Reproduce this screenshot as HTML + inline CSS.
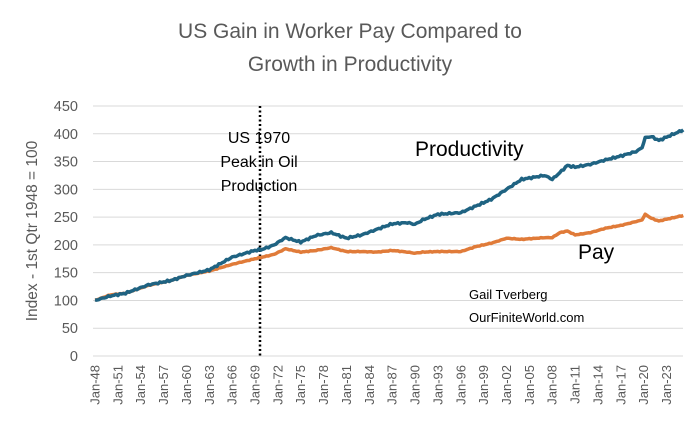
<!DOCTYPE html>
<html><head><meta charset="utf-8"><style>
body{margin:0;background:#fff;}
svg{display:block;font-family:"Liberation Sans",sans-serif;}
</style></head><body>
<svg id="s" width="700" height="425" viewBox="0 0 700 425">
<text x="350" y="38" text-anchor="middle" font-size="21" fill="#595959">US Gain in Worker Pay Compared to</text>
<text x="350" y="71" text-anchor="middle" font-size="21" fill="#595959">Growth in Productivity</text>
<g id="grid" stroke="#d9d9d9" stroke-width="1"></g>
<g id="ylab" font-size="14.5" fill="#595959" text-anchor="end"></g>
<text transform="translate(37,231) rotate(-90)" text-anchor="middle" font-size="15.5" fill="#595959">Index - 1st Qtr 1948 = 100</text>
<g id="xlab" font-size="13" fill="#595959"></g>
<line x1="260" y1="106" x2="260" y2="358" stroke="#000" stroke-width="2.5" stroke-dasharray="2,2.5"/>
<g font-size="16" fill="#000" text-anchor="middle">
<text x="259" y="143">US 1970</text>
<text x="259" y="167">Peak in Oil</text>
<text x="259" y="191">Production</text>
</g>
<polyline id="pay" fill="none" stroke="#e07b39" stroke-width="3.5" stroke-linejoin="round"/>
<polyline id="prod" fill="none" stroke="#1f6382" stroke-width="3.5" stroke-linejoin="round"/>
<text x="415" y="156" font-size="21" fill="#000">Productivity</text>
<text x="578" y="259" font-size="21" fill="#000">Pay</text>
<text x="469" y="299" font-size="13" fill="#000">Gail Tverberg</text>
<text x="469" y="322" font-size="13" fill="#000">OurFiniteWorld.com</text>
</svg>
<script>
var ns="http://www.w3.org/2000/svg";
function Y(v){return 356-v*250/450;}
function X(y){return 95+(y-1948)*7.62;}
var g=document.getElementById('grid'),yl=document.getElementById('ylab'),xl=document.getElementById('xlab');
for(var v=0;v<=450;v+=50){var l=document.createElementNS(ns,'line');l.setAttribute('x1',93);l.setAttribute('x2',683);l.setAttribute('y1',Y(v));l.setAttribute('y2',Y(v));g.appendChild(l);
var t=document.createElementNS(ns,'text');t.setAttribute('x',78);t.setAttribute('y',Y(v)+5);t.textContent=v;yl.appendChild(t);}
for(var yr=1948;yr<=2023;yr+=3){var t=document.createElementNS(ns,'text');var x=X(yr)+4.5;t.setAttribute('transform','translate('+x+',365) rotate(-90)');t.setAttribute('text-anchor','end');t.textContent='Jan-'+String(yr).slice(2);xl.appendChild(t);}
var d=[[1948,100,100],[1950,108,110],[1952,113,113],[1955,128,127],[1958,136,136],[1960,145,145],[1963,155,153],[1966,178,165],[1969,190,175],[1970,192,178],[1971.5,200,183],[1973,213,193],[1975,205,187],[1977,217,190],[1979,222,195],[1981,212,188],[1983,218,188],[1985,228,187],[1987,238,190],[1989,240,187],[1990,237,185],[1991,245,187],[1993,255,188],[1996,258,188],[1998,270,197],[2000,282,203],[2002,300,212],[2004,318,210],[2007,325,213],[2008,318,213],[2009,330,222],[2010,343,225],[2011,340,218],[2013,345,222],[2015,353,230],[2017,360,235],[2019,368,242],[2019.8,375,245],[2020.2,393,255],[2021,395,248],[2022,388,243],[2025.2,407,253]];
var a=[],b=[];
for(var i=0;i<d.length-1;i++){var p=d[i],q=d[i+1];var n=Math.max(2,Math.round((q[0]-p[0])*4));for(var k=0;k<n;k++){var f=k/n;var yr=p[0]+(q[0]-p[0])*f;var j=(Math.sin(yr*7.3)+Math.sin(yr*13.1))*0.9;
a.push(X(yr).toFixed(1)+','+Y(p[1]+(q[1]-p[1])*f+j).toFixed(1));b.push(X(yr).toFixed(1)+','+Y(p[2]+(q[2]-p[2])*f+j*0.4).toFixed(1));}}
var L=d[d.length-1];a.push(X(L[0])+','+Y(L[1]));b.push(X(L[0])+','+Y(L[2]));
document.getElementById('prod').setAttribute('points',a.join(' '));
document.getElementById('pay').setAttribute('points',b.join(' '));
</script>
</body></html>
